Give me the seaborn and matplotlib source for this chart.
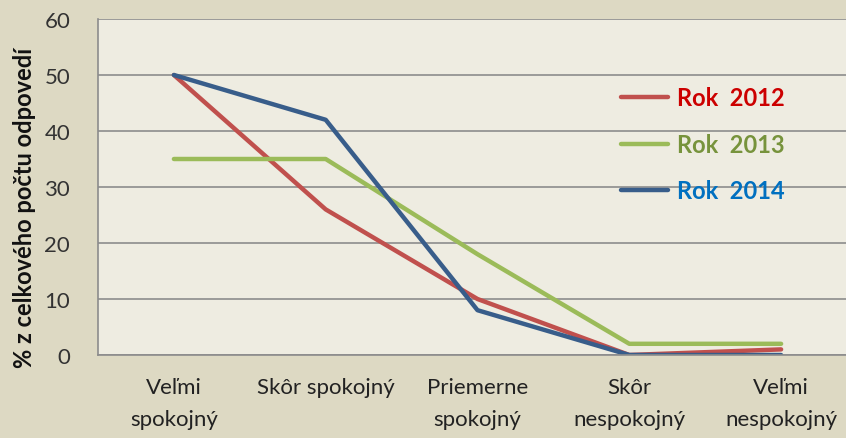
import matplotlib
matplotlib.use("Agg")
import matplotlib.pyplot as plt
import seaborn as sns
import pandas as pd

kategorie = ["Veľmi\nspokojný", "Skôr spokojný", "Priemerne\nspokojný", "Skôr\nnespokojný", "Veľmi\nnespokojný"]
rok_2012 = [50, 26, 10, 0, 1]
rok_2013 = [35, 35, 18, 2, 2]
rok_2014 = [50, 42, 8, 0, 0]
serie_nazvy = ["Rok  2012", "Rok  2013", "Rok  2014"]
y_ticks = [0, 10, 20, 30, 40, 50, 60]
y_label = "% z celkového počtu odpovedí"

line_colors = ["#C0504D", "#9BBB59", "#385D8A"]
text_colors = ["#CC0000", "#77933C", "#0070C0"]

rows = []
for name, vals in zip(serie_nazvy, [rok_2012, rok_2013, rok_2014]):
    for i, (k, v) in enumerate(zip(kategorie, vals)):
        rows.append({"pos": i, "kategoria": k, "hodnota": v, "rok": name})
df = pd.DataFrame(rows)

sns.set_style("white")
plt.rcParams["font.family"] = ["Lato", "DejaVu Sans"]

fig = plt.figure(figsize=(8.46, 4.39), dpi=100, facecolor="#DDD9C3")
ax = fig.add_axes([98/846, 1-356/439, (857-98)/846, (356-20)/439])
ax.set_facecolor("#EEECE1")

sns.lineplot(data=df, x="pos", y="hodnota", hue="rok", palette=line_colors,
             linewidth=3.2, ax=ax, legend=False, sort=False)

ax.set_xlim(-0.5, 4.5)
ax.set_ylim(0, 60)
ax.set_yticks(y_ticks)
ax.set_yticklabels([str(t) for t in y_ticks], fontsize=16, color="#333333")
ax.set_xticks(range(len(kategorie)))
ax.set_xticklabels(kategorie, fontsize=16, color="#222222", linespacing=1.75, va="top")
ax.tick_params(axis="x", length=0, pad=16)
ax.tick_params(axis="y", length=0, pad=20)
ax.grid(axis="y", color="#8C8C8C", linewidth=1.2)
ax.set_axisbelow(True)
for s in ["top", "right"]:
    ax.spines[s].set_visible(False)
for s in ["left", "bottom"]:
    ax.spines[s].set_color("#8C8C8C")
    ax.spines[s].set_linewidth(1.2)

ax.set_xlabel("")
ax.set_ylabel(y_label, fontsize=17, fontweight="bold", color="#111111")
ax.yaxis.set_label_coords(-0.082, 0.44)

from matplotlib.lines import Line2D
handles = [Line2D([0], [0], color=c, linewidth=3.2) for c in line_colors]
leg = ax.legend(handles, serie_nazvy, loc="upper left",
                bbox_to_anchor=(600/846, 1-66/439), bbox_transform=fig.transFigure,
                frameon=False, handlelength=2.0, handletextpad=0.35,
                labelspacing=1.0, prop={"size": 17, "weight": "bold"})
for t, c in zip(leg.get_texts(), text_colors):
    t.set_color(c)

fig.savefig("out.png", dpi=100, facecolor=fig.get_facecolor())
